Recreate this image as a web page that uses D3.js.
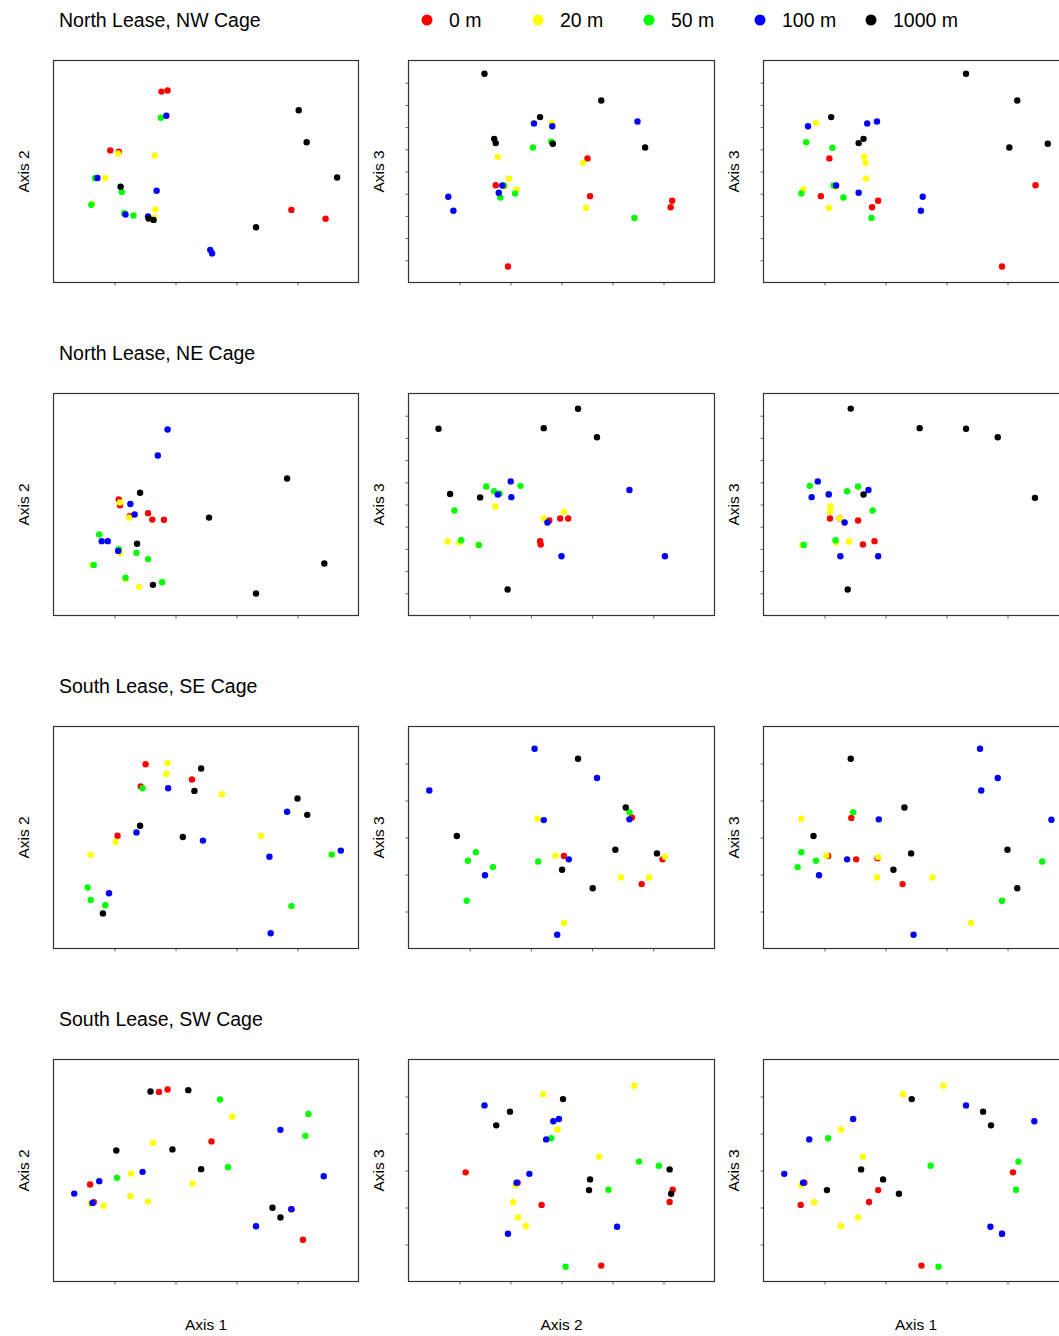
<!DOCTYPE html>
<html>
<head>
<meta charset="utf-8">
<script src="https://cdn.jsdelivr.net/npm/d3@7"></script>
<style>
  body { margin: 0; background: #fff; }
  text { font-family: "Liberation Sans", Arial, sans-serif; fill: #000; }
</style>
</head>
<body>
<svg id="chart" width="1059" height="1336"></svg>
<script>
// depth classes, drawn in this order (0 m underneath, 1000 m on top)
const depths = ["0 m", "20 m", "50 m", "100 m", "1000 m"];
const depthColors = ["#ff0000", "#ffff00", "#00ff00", "#0000ff", "#000000"];

const cages = ["North Lease, NW Cage", "North Lease, NE Cage", "South Lease, SE Cage", "South Lease, SW Cage"];
const axisPairs = [["Axis 1", "Axis 2"], ["Axis 2", "Axis 3"], ["Axis 1", "Axis 3"]];

// number of tick intervals on each panel axis (row = cage, col = axis pair)
const xIntervals = [[5, 6, 5], [5, 5, 5], [5, 5, 5], [5, 6, 5]];
const yIntervals = [[10, 10, 10], [10, 10, 10], [10, 6, 6], [10, 6, 6]];

// ordination scores, one list per depth: [0 m, 20 m, 50 m, 100 m, 1000 m]
const nwAxis12 = [
  [[1.77,8.60],[1.87,8.65],[0.93,5.95],[1.07,5.89],[3.90,3.27],[4.46,2.87]],
  [[1.06,5.81],[1.66,5.72],[0.85,4.71],[0.63,3.54],[1.17,3.11],[1.67,3.30],[1.65,2.93]],
  [[1.76,7.42],[0.68,4.70],[1.12,4.08],[0.62,3.50],[1.16,3.12],[1.31,3.02]],
  [[1.85,7.51],[0.72,4.71],[1.69,4.13],[1.18,3.06],[1.55,2.97],[2.57,1.47],[2.60,1.31]],
  [[1.10,4.31],[1.56,2.88],[1.64,2.82],[4.02,7.76],[4.15,6.32],[4.65,4.73],[3.32,2.49]]
];
const nwAxis23 = [
  [[3.51,5.59],[1.71,4.38],[3.56,3.89],[5.17,3.68],[5.14,3.39],[1.95,0.72]],
  [[2.81,7.19],[1.75,5.66],[3.42,5.39],[1.97,4.68],[2.12,4.19],[3.48,3.36],[1.88,4.33]],
  [[2.44,6.08],[2.80,6.34],[1.87,4.37],[2.09,4.01],[1.80,3.83],[4.43,2.91]],
  [[2.46,7.16],[2.82,7.04],[4.49,7.25],[1.84,4.37],[1.77,4.04],[0.78,3.86],[0.88,3.23]],
  [[1.49,9.40],[3.78,8.20],[2.58,7.45],[1.68,6.47],[1.71,6.28],[2.83,6.25],[4.64,6.08]]
];
const nwAxis13 = [
  [[1.08,5.59],[0.94,3.89],[1.88,3.68],[1.78,3.39],[4.46,4.38],[3.91,0.72]],
  [[0.86,7.19],[1.65,5.66],[1.67,5.39],[1.68,4.68],[1.19,4.31],[0.65,4.19],[1.07,3.36]],
  [[0.70,6.32],[1.13,6.07],[1.15,4.37],[0.62,4.01],[1.31,3.83],[1.77,2.91]],
  [[0.73,7.04],[1.70,7.16],[1.86,7.25],[1.19,4.37],[1.56,4.04],[2.61,3.86],[2.58,3.23]],
  [[3.32,9.40],[4.16,8.20],[1.11,7.45],[1.56,6.28],[1.64,6.47],[4.03,6.08],[4.66,6.25]]
];

const neAxis12 = [
  [[1.07,5.23],[1.09,4.97],[1.25,4.47],[1.55,4.61],[1.62,4.32],[1.81,4.31]],
  [[1.09,5.09],[1.24,4.41],[1.09,2.82],[0.64,2.27],[1.18,1.65],[1.40,1.29]],
  [[0.75,3.65],[1.07,2.99],[1.36,2.82],[1.55,2.54],[0.66,2.28],[1.18,1.70],[1.78,1.50]],
  [[1.87,8.38],[1.71,7.21],[1.26,5.02],[1.33,4.55],[0.79,3.35],[0.89,3.35],[1.06,2.91]],
  [[3.83,6.17],[1.42,5.53],[2.55,4.41],[1.37,3.23],[1.63,1.38],[3.32,0.99],[4.44,2.34]]
];
const neAxis23 = [
  [[2.30,4.28],[2.48,4.37],[2.61,4.37],[2.15,3.35],[2.16,3.20]],
  [[1.42,4.91],[2.54,4.67],[2.21,4.37],[0.64,3.33],[0.83,3.29],[1.14,3.18]],
  [[1.27,5.81],[1.83,5.84],[1.40,5.60],[1.49,5.50],[0.75,4.73],[0.86,3.39],[1.15,3.18]],
  [[1.67,6.04],[1.46,5.45],[1.68,5.33],[3.61,5.65],[2.27,4.19],[2.50,2.67],[4.19,2.67]],
  [[2.77,9.31],[0.49,8.41],[2.21,8.44],[3.08,8.03],[0.68,5.47],[1.17,5.32],[1.62,1.17]]
];
const neAxis13 = [
  [[1.09,4.37],[1.25,4.37],[1.55,4.28],[1.63,3.20],[1.82,3.35]],
  [[1.10,4.91],[1.09,4.67],[1.25,4.37],[0.64,3.18],[1.19,3.29],[1.40,3.33]],
  [[0.76,5.84],[1.55,5.81],[1.37,5.60],[1.07,5.48],[1.79,4.73],[0.66,3.18],[1.18,3.39]],
  [[0.89,6.04],[1.72,5.65],[0.79,5.33],[1.07,5.45],[1.33,4.19],[1.26,2.67],[1.88,2.67]],
  [[1.43,9.32],[2.56,8.44],[3.32,8.41],[3.84,8.03],[4.45,5.30],[1.64,5.45],[1.38,1.17]]
];

const seAxis12 = [
  [[1.51,8.30],[2.27,7.61],[1.43,7.30],[1.05,5.08]],
  [[1.87,8.36],[1.85,7.87],[2.76,6.95],[1.02,4.80],[3.40,5.08],[0.61,4.22]],
  [[1.46,7.22],[4.56,4.23],[0.56,2.75],[0.61,2.19],[0.85,1.95],[3.90,1.91]],
  [[1.88,7.22],[3.83,6.16],[1.36,5.23],[2.45,4.86],[3.54,4.13],[4.71,4.41],[0.91,2.49],[3.56,0.69]],
  [[2.42,8.11],[2.31,7.10],[4.00,6.76],[4.16,6.02],[1.42,5.53],[2.12,5.02],[0.81,1.58]]
];
const seAxis23 = [
  [[3.65,3.54],[2.54,2.50],[4.15,2.41],[3.81,1.74]],
  [[2.11,3.51],[2.40,2.51],[4.19,2.48],[3.47,1.92],[3.93,1.92],[2.54,0.69]],
  [[3.61,3.68],[1.10,2.60],[0.97,2.37],[1.38,2.20],[2.12,2.35],[0.95,1.29]],
  [[2.06,5.40],[3.08,4.61],[0.34,4.27],[3.61,3.49],[2.21,3.47],[1.25,1.98],[2.62,2.41],[2.43,0.37]],
  [[2.77,5.13],[3.55,3.81],[0.79,3.04],[2.51,2.13],[3.38,2.67],[4.06,2.57],[3.01,1.63]]
];
const seAxis13 = [
  [[1.44,3.53],[1.06,2.50],[1.52,2.41],[1.87,2.44],[2.28,1.74]],
  [[0.62,3.51],[1.03,2.51],[1.88,2.47],[1.86,1.92],[2.77,1.92],[3.40,0.69]],
  [[1.47,3.68],[0.62,2.60],[0.86,2.37],[0.56,2.20],[4.57,2.35],[3.91,1.29]],
  [[3.55,5.40],[3.84,4.61],[3.57,4.27],[4.72,3.48],[1.89,3.49],[0.91,1.98],[1.37,2.41],[2.46,0.37]],
  [[1.43,5.13],[2.31,3.81],[0.82,3.04],[2.42,2.57],[2.13,2.13],[4.00,2.67],[4.16,1.63]]
];

const swAxis12 = [
  [[1.73,8.54],[1.87,8.65],[2.59,6.31],[0.60,4.37],[0.66,3.57],[4.09,1.88],[3.90,3.26]],
  [[2.93,7.42],[1.63,6.25],[1.27,4.86],[2.28,4.41],[1.26,3.84],[1.55,3.60],[0.61,3.50],[0.82,3.41]],
  [[2.73,8.20],[4.18,7.55],[4.13,6.56],[2.86,5.15],[1.04,4.67]],
  [[3.72,6.83],[1.46,4.94],[0.75,4.52],[4.43,4.74],[0.34,3.96],[0.64,3.54],[3.90,3.26],[3.32,2.49]],
  [[1.59,8.56],[2.21,8.62],[1.03,5.90],[1.95,5.95],[2.42,5.06],[3.59,3.32],[3.72,2.88]]
];
const swAxis23 = [
  [[1.12,2.95],[2.14,2.67],[5.18,2.48],[5.12,2.15],[2.61,2.07],[3.78,0.43]],
  [[4.43,5.29],[2.64,5.06],[2.92,4.11],[3.74,3.37],[2.10,2.60],[2.05,2.14],[2.15,1.73],[2.30,1.50]],
  [[2.80,3.87],[4.52,3.24],[4.91,3.13],[3.92,2.48],[3.08,0.40]],
  [[1.49,4.76],[2.84,4.33],[2.95,4.39],[2.70,3.84],[2.37,2.91],[2.12,2.67],[4.09,1.48],[1.95,1.29]],
  [[3.03,4.93],[1.99,4.59],[1.72,4.22],[5.12,3.03],[3.56,2.76],[3.54,2.47],[5.15,2.37]]
];
const swAxis13 = [
  [[4.09,2.95],[0.67,2.67],[1.88,2.47],[1.73,2.15],[0.61,2.07],[2.59,0.43],[3.91,1.29]],
  [[2.95,5.29],[2.29,5.06],[1.27,4.11],[1.63,3.37],[0.62,2.60],[0.83,2.14],[1.55,1.73],[1.27,1.50]],
  [[1.06,3.87],[2.74,3.13],[4.18,3.24],[4.14,2.48],[2.87,0.40]],
  [[3.32,4.76],[4.44,4.33],[1.47,4.39],[0.75,3.84],[0.34,2.91],[0.65,2.67],[3.72,1.48],[3.91,1.29]],
  [[2.43,4.93],[3.60,4.59],[3.73,4.22],[1.60,3.03],[1.96,2.76],[1.04,2.47],[2.22,2.37]]
];

const panels = [
  [nwAxis12, nwAxis23, nwAxis13],
  [neAxis12, neAxis23, neAxis13],
  [seAxis12, seAxis23, seAxis13],
  [swAxis12, swAxis23, swAxis13]
];

// layout
const colLeft = [53.5, 408.5, 763.5];
const colWidth = [305, 306, 305];
const rowTop = 60.5, rowStep = 333, panelH = 222;
const dotR = 3.2;

const svg = d3.select("#chart");

// legend on top row
const legend = svg.append("g").attr("class", "legend");
legend.selectAll("circle")
    .data(depths)
    .enter()
    .append("circle")
    .attr("cx", (d, i) => 427 + i * 111)
    .attr("cy", 20)
    .attr("r", 5.5)
    .attr("fill", (d, i) => depthColors[i]);
legend.selectAll("text")
    .data(depths)
    .enter()
    .append("text")
    .attr("x", (d, i) => 449 + i * 111)
    .attr("y", 27)
    .attr("font-size", 19.5)
    .text(d => d);

cages.forEach(function(cage, r) {
    let top = rowTop + r * rowStep;

    svg.append("text")
        .attr("x", 59)
        .attr("y", top - 33.5)
        .attr("font-size", 19.5)
        .text(cage);

    panels[r].forEach(function(groups, c) {
        let x = d3.scaleLinear().domain([0, xIntervals[r][c]]).range([0, colWidth[c]]);
        let y = d3.scaleLinear().domain([0, yIntervals[r][c]]).range([panelH, 0]);
        let g = svg.append("g").attr("transform", "translate(" + colLeft[c] + "," + top + ")");

        let xAxis = g.append("g")
            .attr("transform", "translate(0," + panelH + ")")
            .call(d3.axisBottom(x).tickValues(d3.range(1, xIntervals[r][c])).tickSize(3).tickFormat(""));
        xAxis.select(".domain").remove();
        xAxis.selectAll("line").attr("stroke", "#666");

        if (c > 0) {
            let yAxis = g.append("g")
                .call(d3.axisLeft(y).tickValues(d3.range(1, yIntervals[r][c])).tickSize(3).tickFormat(""));
            yAxis.select(".domain").remove();
            yAxis.selectAll("line").attr("stroke", "#666");
        }

        g.append("rect")
            .attr("width", colWidth[c])
            .attr("height", panelH)
            .attr("fill", "none")
            .attr("stroke", "#333")
            .attr("stroke-width", 1.2);

        groups.forEach(function(pts, d) {
            g.append("g")
                .attr("class", "depth-" + d)
                .selectAll("circle")
                .data(pts)
                .enter()
                .append("circle")
                .attr("cx", p => x(p[0]))
                .attr("cy", p => y(p[1]))
                .attr("r", dotR)
                .attr("fill", depthColors[d]);
        });

        // y axis title beside every panel
        let cy = top + panelH / 2;
        let lx = colLeft[c] - 25;
        svg.append("text")
            .attr("transform", "translate(" + lx + "," + cy + ") rotate(-90)")
            .attr("text-anchor", "middle")
            .attr("font-size", 15.5)
            .text(axisPairs[c][1]);
    });
});

// x axis titles under the bottom row
axisPairs.forEach(function(pair, c) {
    svg.append("text")
        .attr("x", colLeft[c] + colWidth[c] / 2)
        .attr("y", 1330)
        .attr("text-anchor", "middle")
        .attr("font-size", 15.5)
        .text(pair[0]);
});
</script>
</body>
</html>
